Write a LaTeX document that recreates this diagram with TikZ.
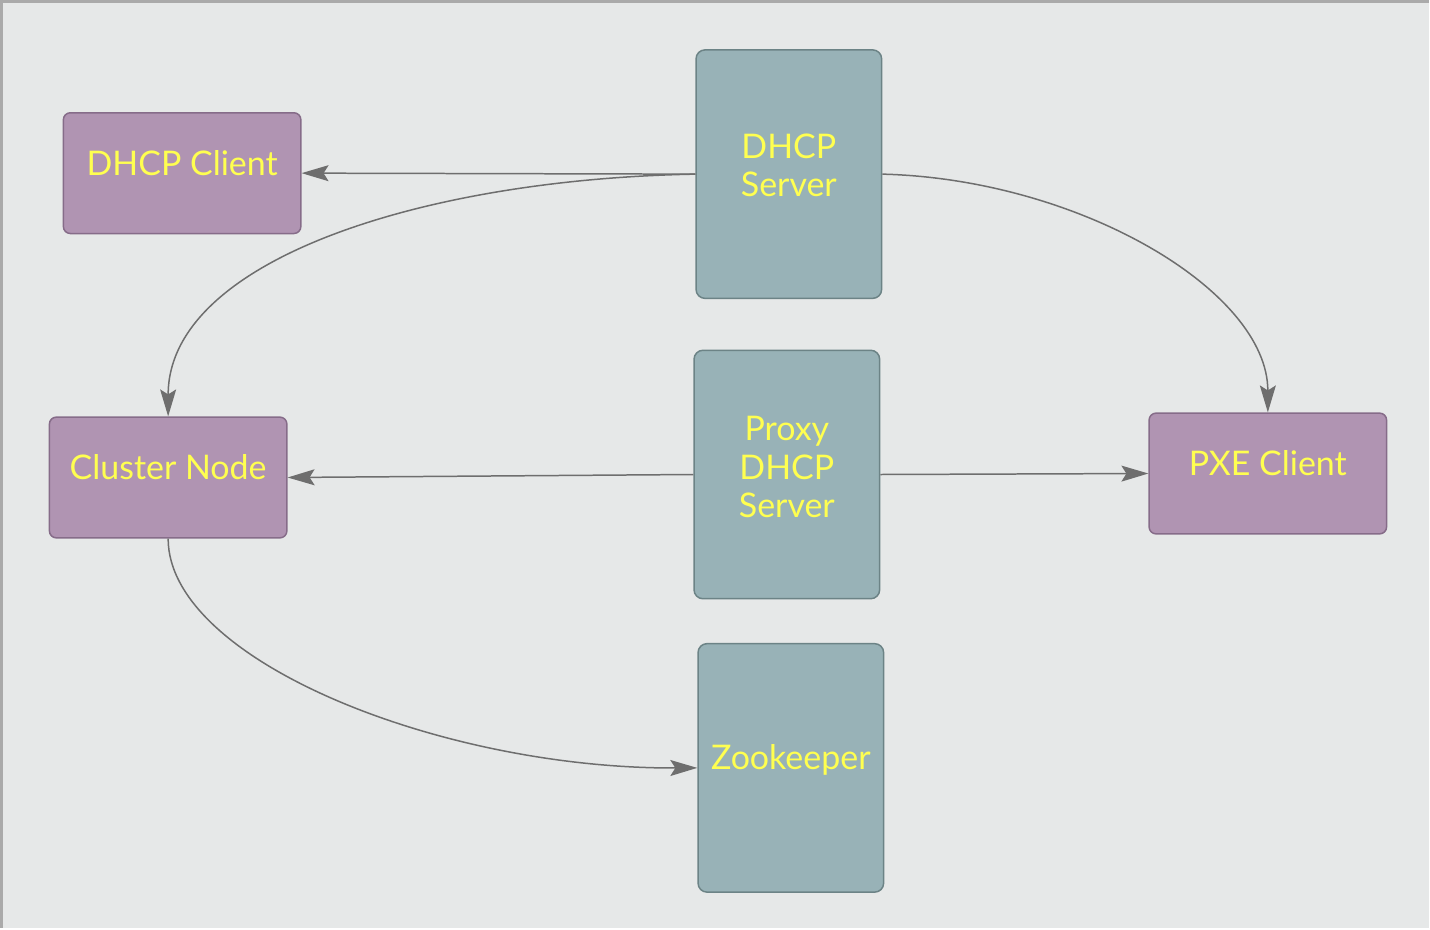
\documentclass[tikz,border=0pt]{standalone}
\usepackage{fontspec}
\setmainfont{Lato}
\usetikzlibrary{arrows.meta}
\definecolor{bgcol}{RGB}{230,232,232}
\definecolor{framecol}{RGB}{170,170,170}
\definecolor{clientfill}{RGB}{176,148,178}
\definecolor{clientdraw}{RGB}{134,108,137}
\definecolor{serverfill}{RGB}{152,178,183}
\definecolor{serverdraw}{RGB}{108,131,134}
\definecolor{labelcol}{RGB}{255,255,80}
\definecolor{edgecol}{RGB}{110,110,110}
\tikzset{
    client/.style={draw=clientdraw, fill=clientfill, line width=1.5pt, rounded corners=7pt,
        minimum width=238pt, minimum height=121pt, inner sep=0pt, text=labelcol,
        font=\fontsize{34}{38}\selectfont, text depth=21pt},
    server/.style={draw=serverdraw, fill=serverfill, line width=1.5pt, rounded corners=9pt,
        minimum width=186pt, minimum height=249pt, inner sep=0pt, text=labelcol,
        align=center, font=\fontsize{34}{38.5}\selectfont},
    link/.style={draw=edgecol, line width=1.5pt, -{Stealth[length=27pt, width=16pt, inset=5pt]}}
}
\begin{document}
\begin{tikzpicture}[x=1pt, y=-1pt]
    \fill[bgcol] (0,0) rectangle (1430,928);
    \draw[framecol, line width=3pt] (0,928) -- (0,0) -- (1430,0);
    \useasboundingbox (0,0) rectangle (1430,928);
    \node[client] (dhcpclient) at (181,172) {DHCP Client};
    \node[client] (clusternode) at (167,477) {Cluster Node};
    \node[client] (pxeclient) at (1269,473) {PXE Client};
    \node[server, text depth=18pt] (dhcpserver) at (789,173) {DHCP\\Server};
    \node[server, text depth=15pt] (proxyserver) at (787,474) {Proxy\\DHCP\\Server};
    \node[server, text depth=21pt] (zookeeper) at (791,768) {Zookeeper};
    \draw[link] (dhcpserver.west) -- (dhcpclient.east);
    \draw[link] (dhcpserver.west) .. controls (420,178) and (167,260) .. (clusternode.north);
    \draw[link] (dhcpserver.east) .. controls (1080,178) and (1269,290) .. (pxeclient.north);
    \draw[link] (proxyserver.west) -- (clusternode.east);
    \draw[link] (proxyserver.east) -- (pxeclient.west);
    \draw[link] (clusternode.south) .. controls (167,660) and (440,769) .. (zookeeper.west);
\end{tikzpicture}
\end{document}
